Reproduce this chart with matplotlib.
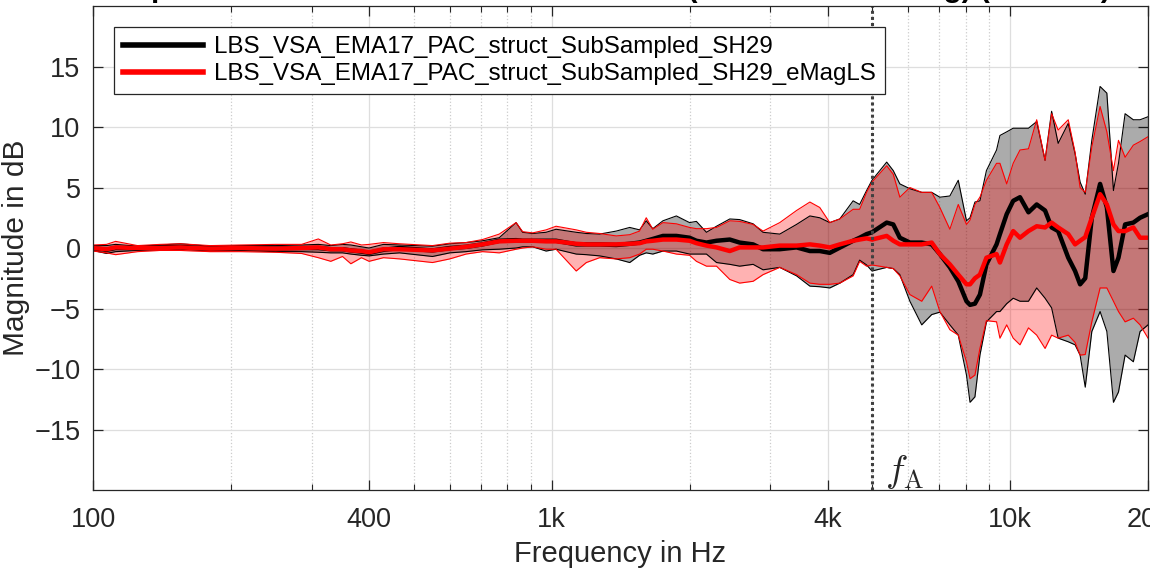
import matplotlib
matplotlib.use("Agg")
import matplotlib.pyplot as plt
from matplotlib.ticker import FixedLocator, NullFormatter

plt.rcParams['font.family'] = ['Liberation Sans', 'DejaVu Sans']
plt.rcParams['mathtext.fontset'] = 'cm'

# frequency grid (Hz) and magnitude curves (dB)
freq = [100, 107, 112, 125, 140, 155, 180, 210, 250, 285, 310, 330, 350, 365, 385, 400,
        430, 466, 550, 600, 651, 707, 769, 837, 865, 910, 973, 1023, 1132, 1191, 1273,
        1384, 1481, 1556, 1609, 1663, 1750, 1872, 2000, 2070, 2177, 2290, 2448, 2572,
        2752, 2893, 3146, 3423, 3660, 3846, 4045, 4253, 4548, 4699, 4866, 5000, 5383,
        5563, 5750, 6048, 6418, 6748, 7030, 7392, 7711, 8036, 8180, 8384, 8597, 8883,
        9346, 9506, 9834, 10160, 10513, 10970, 11433, 11924, 12323, 12735, 13396, 13863,
        14218, 14590, 15079, 15719, 16263, 16810, 17240, 17823, 18576, 19213, 20000]

sh29_upper = [0.2, 0.2, 0.3, 0.15, 0.25, 0.35, 0.15, 0.2, 0.2, 0.25, 0.3, 0.2, 0.3, 0.25, 0.1, 0.0,
              0.3, 0.25, 0.15, 0.35, 0.45, 0.6, 0.85, 2.1, 1.3, 1.2, 1.3, 1.55, 1.3, 1.2, 1.15,
              1.4, 1.7, 1.5, 2.25, 1.6, 2.25, 2.65, 2.1, 2.2, 1.3, 1.8, 2.4, 2.35,
              2.0, 1.3, 1.15, 1.95, 2.65, 2.5, 2.1, 2.4, 3.9, 3.6, 4.75, 5.6, 7.1,
              6.4, 5.3, 4.9, 4.6, 4.6, 4.2, 4.3, 5.6, 2.25, 2.5, 3.8, 3.9, 6.4,
              8.1, 9.3, 9.6, 9.9, 9.9, 9.9, 10.45, 7.25, 11.3, 8.65, 10.3, 7.8,
              5.45, 4.45, 8.9, 13.35, 12.8, 4.75, 7.0, 11.1, 10.6, 10.6, 10.85]
sh29_mean = [0.0, -0.15, 0.0, 0.0, 0.05, 0.1, -0.05, 0.0, -0.05, 0.0, 0.0, -0.1, -0.1, -0.2, -0.3, -0.4,
             -0.15, 0.0, -0.2, 0.0, 0.1, 0.3, 0.6, 0.65, 0.6, 0.6, 0.6, 0.6, 0.3, 0.3, 0.3,
             0.25, 0.35, 0.45, 0.6, 0.75, 1.0, 1.0, 0.85, 0.6, 0.45, 0.6, 0.7, 0.45,
             0.3, -0.1, -0.1, 0.05, -0.25, -0.25, -0.4, 0.03, 0.6, 0.85, 1.15, 1.3, 2.1,
             1.95, 0.85, 0.45, 0.45, 0.3, -0.5, -1.6, -2.75, -4.4, -4.7, -4.6, -3.85, -1.35,
             0.3, 1.15, 2.8, 3.9, 4.2, 2.95, 3.6, 3.1, 1.7, 1.4, -0.8, -1.9,
             -3.0, -2.5, 2.5, 5.3, 3.35, -1.9, -0.8, 1.95, 2.1, 2.5, 2.8]
sh29_lower = [-0.2, -0.45, -0.3, -0.2, -0.15, -0.1, -0.25, -0.2, -0.3, -0.3, -0.35, -0.4, -0.4, -0.5, -0.6, -0.65,
              -0.5, -0.4, -0.7, -0.4, -0.3, -0.15, -0.1, 0.0, 0.1, 0.1, -0.25, -0.1, -0.5, -0.55, -0.65,
              -0.9, -1.2, -0.6, -0.4, -0.5, -0.25, -0.25, -0.5, -0.5, -0.5, -1.2, -1.35, -1.5,
              -1.35, -1.8, -1.6, -2.3, -3.15, -3.2, -3.3, -2.9, -2.2, -1.0, -1.4, -1.9, -1.6,
              -1.7, -2.2, -4.4, -6.35, -5.5, -5.3, -6.35, -7.2, -10.5, -12.75, -12.3, -8.85, -6.1,
              -5.25, -5.25, -4.6, -4.15, -4.4, -4.4, -3.3, -4.15, -4.95, -7.45, -7.75, -8.0,
              -8.85, -11.5, -6.9, -5.25, -6.9, -12.75, -11.9, -8.85, -9.4, -6.9, -6.35]

emag_upper = [0.25, 0.3, 0.55, 0.2, 0.3, 0.35, 0.2, 0.25, 0.3, 0.3, 0.75, 0.25, 0.35, 0.5, 0.25, 0.3,
              0.45, 0.35, 0.2, 0.4, 0.45, 0.7, 1.15, 2.1, 1.35, 1.25, 1.5, 1.8, 1.5, 1.3, 1.2,
              1.0, 1.1, 1.4, 2.5, 1.55, 2.1, 2.0, 1.7, 1.6, 1.6, 1.7, 2.25, 2.2,
              1.95, 1.4, 2.1, 3.1, 3.8, 3.35, 2.1, 2.4, 3.2, 3.2, 4.6, 5.45, 6.8,
              6.1, 4.2, 5.0, 4.6, 4.6, 3.35, 1.55, 3.6, 1.95, 2.3, 3.6, 4.2, 5.6,
              7.0, 7.0, 5.3, 7.0, 8.1, 8.2, 10.6, 7.25, 11.1, 9.75, 10.6, 7.9,
              5.0, 4.6, 8.35, 11.7, 9.6, 6.4, 8.9, 7.5, 8.5, 8.8, 9.2]
emag_mean = [0.0, -0.1, 0.05, 0.0, 0.0, 0.05, -0.05, 0.0, -0.05, 0.0, 0.05, -0.1, -0.1, -0.2, -0.25, -0.35,
             -0.1, -0.1, -0.2, -0.05, 0.1, 0.3, 0.55, 0.6, 0.6, 0.6, 0.55, 0.55, 0.35, 0.3, 0.3,
             0.3, 0.35, 0.4, 0.55, 0.6, 0.7, 0.7, 0.6, 0.4, 0.2, 0.05, -0.25, 0.05,
             0.05, 0.05, 0.2, 0.2, 0.3, 0.2, 0.05, 0.3, 0.6, 0.7, 0.8, 0.7, 1.0,
             0.6, 0.3, 0.3, 0.3, 0.45, -0.5, -1.35, -2.2, -3.0, -3.0, -2.5, -2.2, -0.8,
             -0.5, -1.2, 0.3, 1.4, 0.85, 1.4, 1.8, 1.7, 2.1, 1.7, 1.15, 0.3,
             0.6, 0.9, 2.5, 4.45, 3.6, 1.95, 1.4, 1.4, 1.7, 0.85, 0.85]
emag_lower = [-0.25, -0.4, -0.55, -0.3, -0.2, -0.2, -0.3, -0.3, -0.35, -0.45, -0.8, -1.1, -0.7, -1.3, -0.8, -1.1,
              -0.8, -0.9, -1.2, -0.9, -0.5, -0.3, -0.4, -0.1, 0.0, 0.1, -0.1, -0.1, -1.9, -1.2, -0.8,
              -0.9, -0.8, -0.5, -0.1, -0.1, -0.25, -0.5, -0.6, -1.1, -1.5, -1.5, -2.6, -2.9,
              -2.75, -2.2, -1.6, -2.2, -2.9, -3.0, -3.0, -2.9, -2.3, -1.1, -1.5, -1.4, -1.6,
              -1.7, -2.3, -3.85, -4.4, -3.15, -5.25, -6.75, -7.2, -9.4, -10.8, -10.5, -8.3, -6.0,
              -6.1, -7.45, -6.35, -7.45, -8.0, -6.6, -7.2, -8.3, -7.2, -7.45, -7.2, -7.8,
              -8.85, -8.8, -6.1, -3.3, -3.3, -4.4, -5.25, -6.1, -5.8, -6.35, -7.45]

x_ticks = [100, 400, 1000, 4000, 10000, 20000]
x_tick_labels = ['100', '400', '1k', '4k', '10k', '20k']
x_minor = [200, 300, 500, 600, 700, 800, 900, 2000, 3000, 5000, 6000, 7000, 8000, 9000]
y_ticks = [-15, -10, -5, 0, 5, 10, 15]
f_alias = 5000

label_black = 'LBS_VSA_EMA17_PAC_struct_SubSampled_SH29'
label_red = 'LBS_VSA_EMA17_PAC_struct_SubSampled_SH29_eMagLS'

fig = plt.figure(figsize=(11.5, 5.68), dpi=100)
ax = fig.add_axes([0.0809, 0.1373, 0.9174, 0.8521])

# black set: band, edges, mean
ax.fill_between(freq, sh29_lower, sh29_upper, color='black', alpha=0.33, linewidth=0)
ax.plot(freq, sh29_upper, color='black', lw=0.8)
ax.plot(freq, sh29_lower, color='black', lw=0.8)
ax.plot(freq, sh29_mean, color='black', lw=3.2, label=label_black)

# red set on top
ax.fill_between(freq, emag_lower, emag_upper, color='red', alpha=0.3, linewidth=0)
ax.plot(freq, emag_upper, color='red', lw=0.8)
ax.plot(freq, emag_lower, color='red', lw=0.8)
ax.plot(freq, emag_mean, color='red', lw=3.2, label=label_red)

ax.axvline(f_alias, color='#404040', lw=2.2, ls=(0, (1, 1)))
ax.text(5330, -19.3, r'$f_\mathrm{A}$', fontsize=27, color='#262626', va='baseline', ha='left')

ax.set_xscale('log')
ax.set_xlim(100, 20000)
ax.set_ylim(-20, 20)
ax.xaxis.set_major_locator(FixedLocator(x_ticks))
ax.set_xticklabels(x_tick_labels)
ax.xaxis.set_minor_locator(FixedLocator(x_minor))
ax.xaxis.set_minor_formatter(NullFormatter())
ax.set_yticks(y_ticks)

ax.grid(True, which='major', color='#dedede', lw=0.9, ls='-')
ax.grid(True, which='minor', axis='x', color='#cccccc', lw=0.9, ls=':')
ax.set_axisbelow(True)

for s in ax.spines.values():
    s.set_color('#262626')
    s.set_linewidth(0.9)
ax.tick_params(which='both', direction='in', top=True, right=True, colors='#262626', labelsize=19.5)
ax.tick_params(which='major', length=7.5, width=0.9)
ax.tick_params(which='minor', length=4.5, width=0.8)
ax.tick_params(axis='x', pad=12)
ax.tick_params(axis='y', pad=9)

ax.set_xlabel('Frequency in Hz', fontsize=21, color='#262626', labelpad=5)
ax.set_ylabel('Magnitude in dB', fontsize=21.5, color='#262626', labelpad=3)

leg = ax.legend(loc='upper left', bbox_to_anchor=(0.0199, 0.9566), borderaxespad=0,
                fontsize=17.4, handlelength=3.3, handletextpad=0.45, labelspacing=0.2,
                borderpad=0.38, fancybox=False, framealpha=1, edgecolor='#262626')
leg.get_frame().set_linewidth(0.9)
for line in leg.get_lines():
    line.set_linewidth(4)

# title sits mostly above the visible canvas, as in the reference
fig.text(0.54, 1.006, 'Spectral Difference to Reference HRTF (1/3 oct. smoothing) (Left Ear)',
         ha='center', va='baseline', fontsize=21.5, fontweight='bold', color='black')

fig.savefig('out.png', dpi=100)
